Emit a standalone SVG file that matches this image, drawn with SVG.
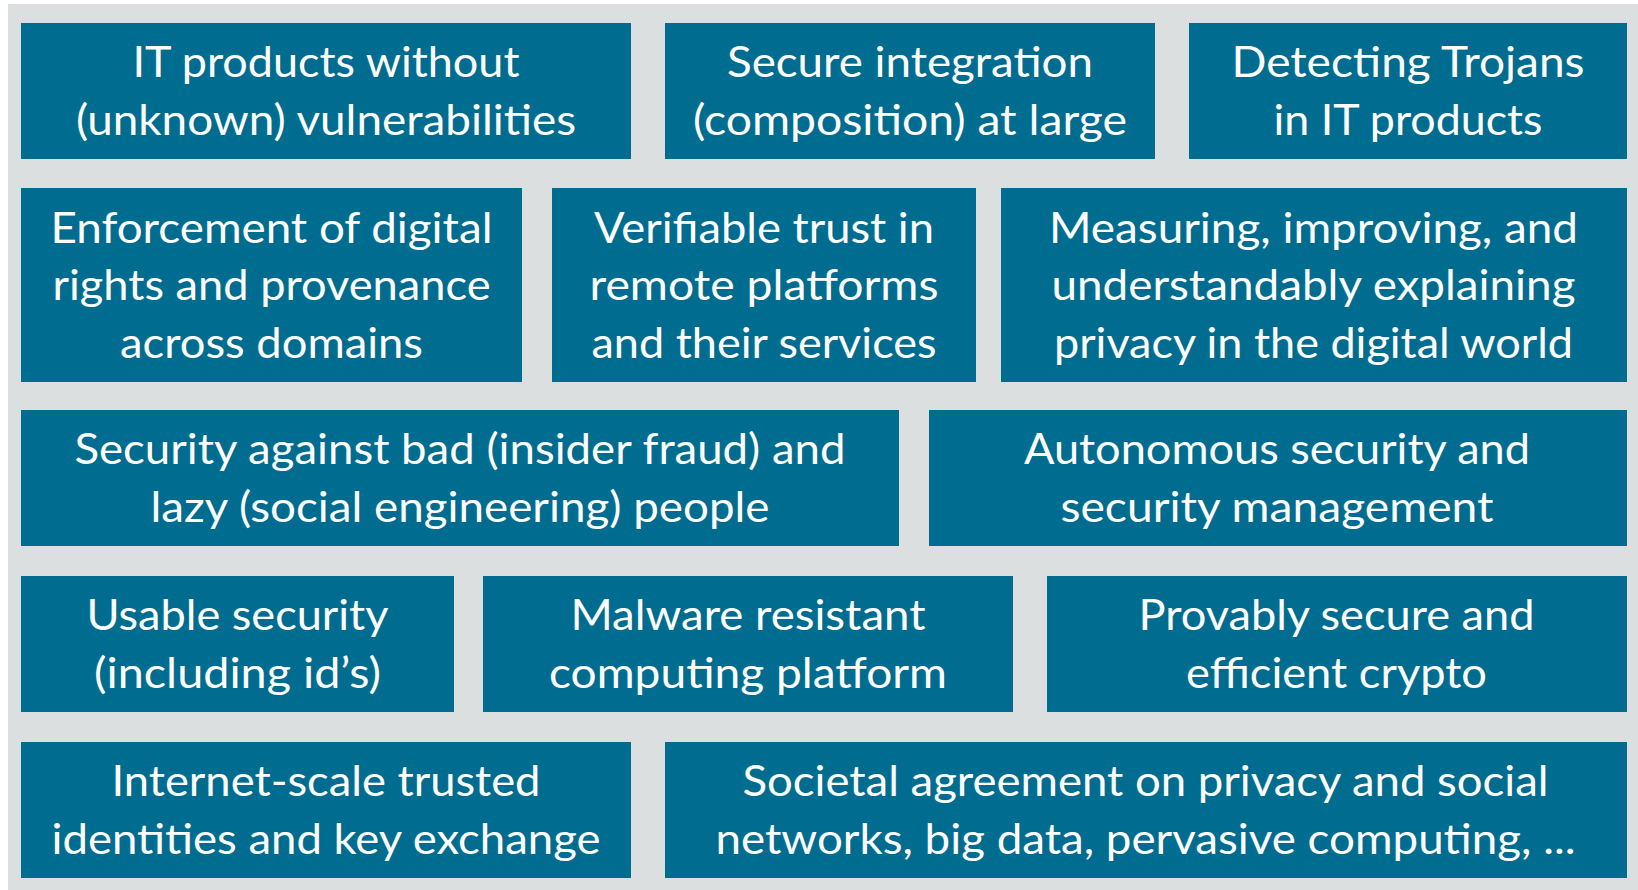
<svg xmlns="http://www.w3.org/2000/svg" width="1638" height="890" viewBox="0 0 1638 890">
  <style>
    .tile { fill: #006D90; }
    .label { font-family: Lato, "Open Sans", "Liberation Sans", sans-serif; font-size: 42px; fill: #FFFFFF; text-anchor: middle; }
  </style>
  <rect x="0" y="0" width="1638" height="890" fill="#FFFFFF"/>
  <rect id="panel" x="8" y="4" width="1630" height="886" fill="#DBDFE0"/>

  <!-- row 1 -->
  <g id="it-products">
    <rect class="tile" x="21" y="23" width="610" height="136"/>
    <text class="label" lengthAdjust="spacingAndGlyphs"><tspan x="326" y="77.3" textLength="387" lengthAdjust="spacingAndGlyphs">IT products without</tspan><tspan x="326" y="134.8" textLength="500" lengthAdjust="spacingAndGlyphs">(unknown) vulnerabilities</tspan></text>
  </g>
  <g id="secure-integration">
    <rect class="tile" x="665" y="23" width="490" height="136"/>
    <text class="label"><tspan x="910" y="77.3" textLength="366" lengthAdjust="spacingAndGlyphs">Secure integration</tspan><tspan x="910" y="134.8" textLength="434" lengthAdjust="spacingAndGlyphs">(composition) at large</tspan></text>
  </g>
  <g id="detecting-trojans">
    <rect class="tile" x="1189" y="23" width="438" height="136"/>
    <text class="label"><tspan x="1408" y="77.3" textLength="353" lengthAdjust="spacingAndGlyphs">Detecting Trojans</tspan><tspan x="1408" y="134.8" textLength="269" lengthAdjust="spacingAndGlyphs">in IT products</tspan></text>
  </g>

  <!-- row 2 -->
  <g id="digital-rights">
    <rect class="tile" x="21" y="188" width="501" height="194"/>
    <text class="label"><tspan x="271.5" y="242.5" textLength="442" lengthAdjust="spacingAndGlyphs">Enforcement of digital</tspan><tspan x="271.5" y="300" textLength="438" lengthAdjust="spacingAndGlyphs">rights and provenance</tspan><tspan x="271.5" y="357.5" textLength="303" lengthAdjust="spacingAndGlyphs">across domains</tspan></text>
  </g>
  <g id="verifiable-trust">
    <rect class="tile" x="552" y="188" width="424" height="194"/>
    <text class="label"><tspan x="764" y="242.5" textLength="340" lengthAdjust="spacingAndGlyphs">Verifiable trust in</tspan><tspan x="764" y="300" textLength="349" lengthAdjust="spacingAndGlyphs">remote platforms</tspan><tspan x="764" y="357.5" textLength="345" lengthAdjust="spacingAndGlyphs">and their services</tspan></text>
  </g>
  <g id="privacy-measuring">
    <rect class="tile" x="1001" y="188" width="626" height="194"/>
    <text class="label"><tspan x="1313.5" y="242.5" textLength="529" lengthAdjust="spacingAndGlyphs">Measuring, improving, and</tspan><tspan x="1313.5" y="300" textLength="524" lengthAdjust="spacingAndGlyphs">understandably explaining</tspan><tspan x="1313.5" y="357.5" textLength="519" lengthAdjust="spacingAndGlyphs">privacy in the digital world</tspan></text>
  </g>

  <!-- row 3 -->
  <g id="people-security">
    <rect class="tile" x="21" y="410" width="878" height="136"/>
    <text class="label"><tspan x="460" y="464.3" textLength="771" lengthAdjust="spacingAndGlyphs">Security against bad (insider fraud) and</tspan><tspan x="460" y="521.8" textLength="619" lengthAdjust="spacingAndGlyphs">lazy (social engineering) people</tspan></text>
  </g>
  <g id="autonomous-security">
    <rect class="tile" x="929" y="410" width="698" height="136"/>
    <text class="label"><tspan x="1277" y="464.3" textLength="506" lengthAdjust="spacingAndGlyphs">Autonomous security and</tspan><tspan x="1277" y="521.8" textLength="433" lengthAdjust="spacingAndGlyphs">security management</tspan></text>
  </g>

  <!-- row 4 -->
  <g id="usable-security">
    <rect class="tile" x="21" y="576" width="433" height="136"/>
    <text class="label"><tspan x="237.5" y="630.3" textLength="302" lengthAdjust="spacingAndGlyphs">Usable security</tspan><tspan x="237.5" y="687.8" textLength="287" lengthAdjust="spacingAndGlyphs">(including id’s)</tspan></text>
  </g>
  <g id="malware-resistant">
    <rect class="tile" x="483" y="576" width="530" height="136"/>
    <text class="label"><tspan x="748" y="630.3" textLength="355" lengthAdjust="spacingAndGlyphs">Malware resistant</tspan><tspan x="748" y="687.8" textLength="398" lengthAdjust="spacingAndGlyphs">computing platform</tspan></text>
  </g>
  <g id="provable-crypto">
    <rect class="tile" x="1047" y="576" width="580" height="136"/>
    <text class="label"><tspan x="1336.5" y="630.3" textLength="396" lengthAdjust="spacingAndGlyphs">Provably secure and</tspan><tspan x="1336.5" y="687.8" textLength="301" lengthAdjust="spacingAndGlyphs">efficient crypto</tspan></text>
  </g>

  <!-- row 5 -->
  <g id="trusted-identities">
    <rect class="tile" x="21" y="742" width="610" height="136"/>
    <text class="label"><tspan x="326" y="796.3" textLength="429" lengthAdjust="spacingAndGlyphs">Internet-scale trusted</tspan><tspan x="326" y="853.8" textLength="549" lengthAdjust="spacingAndGlyphs">identities and key exchange</tspan></text>
  </g>
  <g id="societal-agreement">
    <rect class="tile" x="665" y="742" width="962" height="136"/>
    <text class="label"><tspan x="1145.5" y="796.3" textLength="806" lengthAdjust="spacingAndGlyphs">Societal agreement on privacy and social</tspan><tspan x="1145.5" y="853.8" textLength="860" lengthAdjust="spacingAndGlyphs">networks, big data, pervasive computing, ...</tspan></text>
  </g>

  <!-- no connectors in this layout -->
  <g id="connectors"/>
</svg>
